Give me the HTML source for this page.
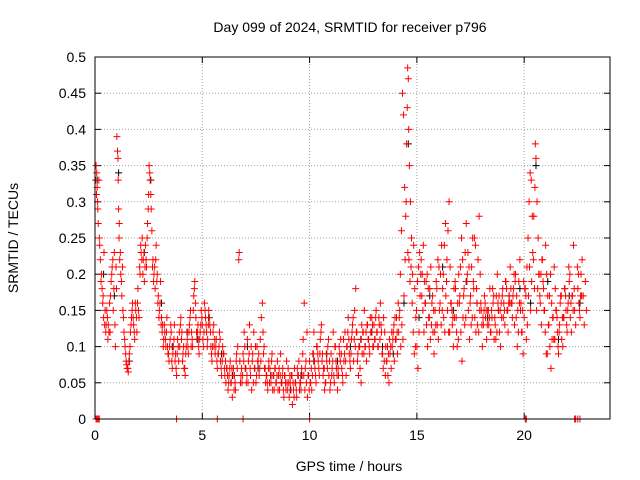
<!DOCTYPE html>
<html><head><meta charset="utf-8"><style>
body{margin:0;background:#fff;}
svg{display:block;font-family:"Liberation Sans",sans-serif;}
</style></head><body>
<svg id="chart" width="640" height="480">
<text x="350" y="32" font-size="14" text-anchor="middle">Day 099 of 2024, SRMTID for receiver p796</text>
<text x="349" y="471" font-size="14" text-anchor="middle">GPS time / hours</text>
<text transform="translate(18,238) rotate(-90)" font-size="14" text-anchor="middle">SRMTID / TECUs</text>
</svg>
<script>
const xTicks=[0,5,10,15,20];
const yTicks=[0,0.05,0.1,0.15,0.2,0.25,0.3,0.35,0.4,0.45,0.5];
const yTickLabels=["0","0.05","0.1","0.15","0.2","0.25","0.3","0.35","0.4","0.45","0.5"];
const redTimes=[0.05,0.08,0.1,0.12,0.15,0.18,0.2,0.25,0.3,0.33,0.36,0.4,0.42,0.45,0.5,0.55,0.6,0.62,0.68,0.7,0.75,0.8,0.85,0.9,0.95,1.0,1.02,1.05,1.08,1.1,1.12,1.15,1.2,1.25,1.28,1.3,1.35,1.4,1.45,1.5,1.55,1.6,1.65,1.7,1.75,1.8,1.85,1.9,1.95,2.0,2.05,2.1,2.15,2.2,2.25,2.3,2.35,2.4,2.45,2.5,2.52,2.55,2.6,2.65,2.7,2.75,2.8,2.85,2.9,2.95,3.0,3.05,3.1,3.15,3.2,3.25,3.3,3.35,3.4,3.45,3.5,3.55,3.6,3.65,3.7,3.75,3.8,3.85,3.9,3.95,4.0,4.05,4.1,4.15,4.2,4.25,4.3,4.35,4.4,4.45,4.5,4.55,4.6,4.65,4.7,4.75,4.8,4.85,4.9,4.95,5.0,5.05,5.1,5.15,5.2,5.25,5.3,5.35,5.4,5.45,5.5,5.55,5.6,5.65,5.7,5.75,5.8,5.85,5.9,5.95,6.0,6.05,6.1,6.15,6.2,6.25,6.3,6.35,6.4,6.45,6.5,6.55,6.6,6.65,6.7,6.72,6.75,6.8,6.85,6.9,6.95,7.0,7.05,7.1,7.15,7.2,7.25,7.3,7.35,7.4,7.45,7.5,7.55,7.6,7.65,7.7,7.75,7.8,7.85,7.9,7.95,8.0,8.05,8.1,8.15,8.2,8.25,8.3,8.35,8.4,8.45,8.5,8.55,8.6,8.65,8.7,8.75,8.8,8.85,8.9,8.95,9.0,9.05,9.1,9.15,9.2,9.25,9.3,9.35,9.4,9.45,9.5,9.55,9.6,9.65,9.7,9.75,9.8,9.85,9.9,9.95,10.0,10.05,10.1,10.15,10.2,10.25,10.3,10.35,10.4,10.45,10.5,10.55,10.6,10.65,10.7,10.75,10.8,10.85,10.9,10.95,11.0,11.05,11.1,11.15,11.2,11.25,11.3,11.35,11.4,11.45,11.5,11.55,11.6,11.65,11.7,11.75,11.8,11.85,11.9,11.95,12.0,12.05,12.1,12.15,12.2,12.25,12.3,12.35,12.4,12.45,12.5,12.55,12.6,12.65,12.7,12.75,12.8,12.85,12.9,12.95,13.0,13.05,13.1,13.15,13.2,13.25,13.3,13.35,13.4,13.45,13.5,13.55,13.6,13.65,13.7,13.75,13.8,13.85,13.9,13.95,14.0,14.05,14.1,14.15,14.2,14.25,14.3,14.35,14.4,14.45,14.5,14.52,14.55,14.57,14.6,14.62,14.65,14.7,14.75,14.8,14.85,14.9,14.95,15.0,15.05,15.1,15.15,15.2,15.25,15.3,15.35,15.4,15.45,15.5,15.55,15.6,15.65,15.7,15.75,15.8,15.85,15.9,15.95,16.0,16.05,16.1,16.15,16.2,16.25,16.3,16.35,16.4,16.45,16.5,16.55,16.6,16.65,16.7,16.75,16.8,16.85,16.9,16.95,17.0,17.05,17.1,17.15,17.2,17.25,17.3,17.35,17.4,17.45,17.5,17.55,17.6,17.65,17.7,17.75,17.8,17.85,17.9,17.95,18.0,18.05,18.1,18.15,18.2,18.25,18.3,18.35,18.4,18.45,18.5,18.55,18.6,18.65,18.7,18.75,18.8,18.85,18.9,18.95,19.0,19.05,19.1,19.15,19.2,19.25,19.3,19.35,19.4,19.45,19.5,19.55,19.6,19.65,19.7,19.75,19.8,19.85,19.9,19.95,20.0,20.05,20.1,20.15,20.2,20.25,20.3,20.35,20.4,20.45,20.5,20.52,20.55,20.6,20.65,20.7,20.75,20.8,20.85,20.9,20.95,21.0,21.05,21.1,21.15,21.2,21.25,21.3,21.35,21.4,21.45,21.5,21.55,21.6,21.65,21.7,21.75,21.8,21.85,21.9,21.95,22.0,22.05,22.1,22.15,22.2,22.25,22.3,22.35,22.4,22.5,22.55,22.6,22.65,22.7,22.75,22.8,22.85,22.9];
const redValues=[.35,.34,.32,.30,.27,.33,.25,.22,.2,.18,.16,.14,.23,.13,.12,.15,.11,.13,.16,.12,.19,.21,.15,.23,.1,.18,.39,.37,.33,.29,.25,.22,.2,.17,.21,.15,.12,.1,.08,.07,.065,.09,.12,.14,.16,.13,.11,.15,.12,.18,.14,.2,.23,.25,.22,.19,.24,.21,.27,.31,.35,.34,.31,.26,.22,.2,.18,.24,.2,.17,.15,.19,.14,.13,.11,.12,.1,.14,.09,.08,.11,.12,.07,.1,.13,.09,.06,.11,.08,.1,.14,.12,.09,.07,.06,.1,.11,.09,.13,.15,.12,.1,.17,.19,.14,.11,.13,.09,.12,.15,.13,.1,.16,.14,.12,.11,.15,.13,.1,.08,.12,.1,.09,.11,.07,.09,.12,.08,.06,.1,.09,.06,.05,.07,.04,.06,.08,.05,.03,.07,.06,.04,.09,.1,.22,.23,.08,.06,.05,.09,.12,.07,.05,.11,.08,.13,.06,.04,.09,.12,.07,.05,.1,.08,.06,.11,.14,.16,.09,.07,.05,.06,.04,.08,.07,.05,.09,.06,.04,.07,.05,.08,.06,.04,.09,.05,.07,.03,.06,.04,.05,.07,.03,.05,.06,.02,.04,.07,.05,.03,.06,.08,.05,.04,.06,.11,.16,.07,.05,.03,.06,.08,.05,.04,.09,.12,.07,.05,.1,.08,.06,.11,.13,.09,.07,.04,.05,.08,.1,.06,.04,.09,.07,.12,.05,.1,.07,.04,.06,.09,.11,.07,.05,.08,.12,.06,.1,.14,.09,.07,.11,.13,.08,.15,.18,.12,.09,.1,.07,.05,.09,.12,.15,.1,.08,.13,.11,.09,.12,.14,.1,.13,.11,.15,.12,.1,.13,.16,.12,.09,.14,.12,.1,.08,.06,.05,.09,.07,.1,.12,.08,.11,.14,.09,.12,.15,.1,.13,.11,.17,.22,.3,.38,.43,.485,.47,.40,.35,.3,.25,.2,.24,.18,.14,.1,.07,.12,.17,.22,.2,.24,.19,.16,.13,.1,.14,.18,.21,.16,.12,.09,.15,.19,.13,.11,.15,.2,.24,.18,.14,.12,.17,.22,.26,.3,.21,.16,.13,.1,.14,.18,.12,.16,.2,.17,.12,.08,.14,.18,.23,.27,.2,.15,.11,.17,.21,.25,.18,.14,.12,.16,.22,.28,.2,.15,.1,.13,.17,.14,.11,.15,.13,.18,.12,.14,.16,.11,.13,.17,.2,.15,.12,.1,.14,.18,.16,.13,.19,.15,.12,.17,.21,.16,.14,.18,.13,.2,.17,.15,.19,.22,.16,.12,.09,.14,.18,.11,.13,.17,.21,.15,.19,.23,.28,.32,.38,.36,.3,.25,.2,.16,.13,.22,.18,.15,.24,.2,.17,.13,.1,.07,.11,.14,.21,.18,.15,.12,.09,.13,.17,.11,.1,.14,.18,.15,.12,.16,.19,.14,.12,.17,.24,.15,.13,.18,.16,.14,.2,.22,.17,.13,.19,.15];
const redTimes2=[0.03,0.07,0.13,0.22,0.28,0.38,0.47,0.52,0.58,0.65,0.72,0.78,0.83,0.88,0.93,0.98,1.07,1.13,1.18,1.23,1.33,1.38,1.43,1.48,1.53,1.58,1.63,1.68,1.73,1.78,1.83,1.88,1.93,1.98,2.03,2.08,2.13,2.18,2.23,2.28,2.33,2.38,2.43,2.48,2.57,2.62,2.68,2.73,2.78,2.83,2.88,2.93,2.98,3.03,3.08,3.13,3.18,3.23,3.28,3.33,3.38,3.43,3.48,3.53,3.58,3.63,3.68,3.73,3.78,3.83,3.88,3.93,3.98,4.03,4.08,4.13,4.18,4.23,4.28,4.33,4.38,4.43,4.48,4.53,4.58,4.63,4.68,4.73,4.78,4.83,4.88,4.93,4.98,5.03,5.08,5.13,5.18,5.23,5.28,5.33,5.38,5.43,5.48,5.53,5.58,5.63,5.68,5.73,5.78,5.83,5.88,5.93,5.98,6.03,6.08,6.13,6.18,6.23,6.28,6.33,6.38,6.43,6.48,6.53,6.58,6.63,6.78,6.83,6.88,6.93,6.98,7.03,7.08,7.13,7.18,7.23,7.28,7.33,7.38,7.43,7.48,7.53,7.58,7.63,7.68,7.73,7.83,7.88,7.93,7.98,8.03,8.08,8.13,8.18,8.23,8.28,8.33,8.38,8.43,8.48,8.53,8.58,8.63,8.68,8.73,8.78,8.83,8.88,8.93,8.98,9.03,9.08,9.13,9.18,9.23,9.28,9.33,9.38,9.43,9.48,9.53,9.58,9.63,9.68,9.73,9.78,9.83,9.88,9.93,9.98,10.03,10.08,10.13,10.18,10.23,10.28,10.33,10.38,10.43,10.48,10.53,10.58,10.63,10.68,10.73,10.78,10.83,10.88,10.93,10.98,11.03,11.08,11.13,11.18,11.23,11.28,11.33,11.38,11.43,11.48,11.53,11.58,11.63,11.68,11.73,11.78,11.83,11.88,11.93,11.98,12.03,12.08,12.13,12.18,12.23,12.28,12.33,12.38,12.43,12.48,12.53,12.58,12.63,12.68,12.73,12.78,12.83,12.88,12.93,12.98,13.03,13.08,13.13,13.18,13.23,13.28,13.33,13.38,13.43,13.48,13.53,13.58,13.63,13.68,13.73,13.78,13.83,13.88,13.93,13.98,14.03,14.08,14.13,14.18,14.23,14.28,14.33,14.38,14.43,14.48,14.58,14.63,14.68,14.73,14.78,14.83,14.88,14.93,14.98,15.03,15.08,15.13,15.18,15.23,15.28,15.33,15.38,15.43,15.48,15.53,15.58,15.63,15.68,15.73,15.78,15.83,15.88,15.93,15.98,16.03,16.08,16.13,16.18,16.23,16.28,16.33,16.38,16.43,16.48,16.53,16.58,16.63,16.68,16.73,16.78,16.83,16.88,16.93,16.98,17.03,17.08,17.13,17.18,17.23,17.28,17.33,17.38,17.43,17.48,17.53,17.58,17.63,17.68,17.73,17.78,17.83,17.88,17.93,17.98,18.03,18.08,18.13,18.18,18.23,18.28,18.33,18.38,18.43,18.48,18.53,18.58,18.63,18.68,18.73,18.78,18.83,18.88,18.93,18.98,19.03,19.08,19.13,19.18,19.23,19.28,19.33,19.38,19.43,19.48,19.53,19.58,19.63,19.68,19.73,19.78,19.83,19.88,19.93,19.98,20.03,20.08,20.13,20.18,20.23,20.28,20.33,20.38,20.43,20.48,20.58,20.63,20.68,20.73,20.78,20.83,20.88,20.93,20.98,21.03,21.08,21.13,21.18,21.23,21.28,21.33,21.38,21.43,21.48,21.53,21.58,21.63,21.68,21.73,21.78,21.83,21.88,21.93,21.98,22.03,22.08,22.13,22.18,22.23,22.28,22.33,22.48,22.53,22.58,22.63,22.68,22.73,22.78,22.83,22.88];
const redValues2=[.33,.31,.29,.24,.19,.17,.15,.13,.14,.12,.17,.2,.22,.18,.13,.21,.36,.27,.23,.19,.14,.11,.09,.075,.07,.08,.1,.13,.15,.14,.12,.16,.14,.16,.15,.21,.24,.22,.2,.23,.21,.22,.25,.29,.33,.29,.21,.19,.21,.22,.19,.16,.14,.16,.13,.12,.1,.13,.11,.12,.1,.09,.1,.13,.08,.09,.11,.08,.07,.09,.1,.12,.13,.11,.08,.1,.07,.09,.12,.1,.12,.14,.1,.11,.15,.18,.16,.12,.12,.1,.11,.13,.14,.11,.12,.15,.13,.1,.13,.14,.12,.09,.1,.13,.11,.1,.08,.09,.1,.11,.07,.08,.09,.07,.08,.07,.06,.05,.07,.05,.07,.06,.04,.05,.08,.07,.05,.07,.06,.08,.1,.07,.06,.05,.09,.07,.1,.08,.05,.07,.1,.06,.08,.09,.07,.08,.12,.1,.07,.06,.05,.07,.05,.06,.08,.04,.06,.07,.05,.06,.04,.07,.06,.05,.06,.04,.06,.05,.08,.04,.05,.06,.04,.06,.05,.03,.05,.04,.07,.06,.04,.05,.07,.09,.06,.04,.08,.12,.06,.04,.05,.07,.06,.09,.08,.06,.1,.09,.07,.09,.12,.08,.06,.07,.05,.09,.07,.11,.08,.05,.06,.08,.06,.1,.08,.06,.07,.1,.08,.09,.06,.11,.09,.08,.1,.12,.11,.08,.09,.12,.14,.11,.1,.12,.08,.06,.1,.11,.13,.12,.09,.1,.12,.13,.11,.1,.14,.12,.13,.1,.11,.14,.12,.1,.14,.11,.13,.09,.07,.08,.06,.08,.1,.09,.11,.1,.12,.11,.13,.14,.11,.12,.16,.14,.2,.26,.45,.42,.32,.28,.23,.22,.19,.21,.16,.12,.09,.1,.15,.19,.21,.23,.2,.17,.15,.12,.16,.19,.2,.18,.14,.11,.13,.17,.15,.12,.13,.18,.22,.21,.16,.13,.15,.2,.24,.27,.19,.15,.12,.12,.16,.15,.14,.18,.19,.14,.1,.11,.16,.21,.25,.22,.17,.13,.14,.19,.23,.21,.16,.13,.14,.19,.25,.24,.18,.13,.12,.15,.16,.13,.14,.15,.16,.15,.13,.15,.14,.12,.15,.18,.17,.14,.11,.12,.16,.17,.15,.16,.17,.14,.15,.19,.18,.15,.16,.16,.18,.16,.17,.2,.19,.14,.1,.12,.16,.15,.12,.15,.19,.18,.17,.21,.25,.3,.34,.33,.28,.22,.18,.15,.18,.2,.17,.2,.22,.19,.15,.12,.09,.09,.13,.17,.2,.16,.14,.11,.11,.15,.14,.1,.12,.16,.17,.14,.14,.18,.17,.13,.15,.21,.2,.16,.17,.15,.18,.21,.2,.15,.17,.17];
const blackTimes=[0.1,0.4,0.9,1.1,1.6,2.3,2.6,3.1,3.6,4.3,4.8,5.3,5.9,6.4,7.1,7.6,8.2,8.7,9.1,9.6,10.2,10.8,11.3,11.9,12.4,12.9,13.4,13.9,14.4,14.6,15.1,15.6,16.2,16.7,17.3,17.8,18.3,18.8,19.3,19.8,20.3,20.55,21.1,21.6,22.1,22.6];
const blackValues=[.33,.2,.17,.34,.08,.23,.33,.16,.1,.12,.11,.14,.09,.06,.1,.07,.06,.05,.04,.06,.08,.09,.08,.1,.11,.12,.1,.09,.16,.38,.14,.17,.21,.15,.19,.16,.14,.15,.17,.18,.16,.35,.19,.11,.17,.16];
const zeroTimes=[0.05,0.1,0.15,0.2,3.8,5.7,6.9,10.0,20.05,20.1,22.35,22.4,22.5,22.6];
const zeroValues=[0,0,0,0,0,0,0,0,0,0,0,0,0,0];

const X0=95,X1=610,Y0=419,Y1=57,XMAX=24,YMAX=0.5;
const sx=t=>X0+(X1-X0)*t/XMAX;
const sy=v=>Y0-(Y0-Y1)*v/YMAX;
const svg=document.getElementById('chart');
const NS='http://www.w3.org/2000/svg';
function mk(tag,attrs,parent){const e=document.createElementNS(NS,tag);for(const k in attrs)e.setAttribute(k,attrs[k]);(parent||svg).appendChild(e);return e;}

const grid=mk('g',{});


yTicks.forEach((v,i)=>{
  const y=sy(v);
  if(i>0&&i<yTicks.length-1){const l=mk('line',{x1:X0,x2:X1,y1:y,y2:y,stroke:'#a0a0a0','stroke-dasharray':'1,2','stroke-width':1},grid);
  
  }
  mk('line',{x1:X0,x2:X0+6,y1:y,y2:y,stroke:'#000'});
  mk('line',{x1:X1,x2:X1-6,y1:y,y2:y,stroke:'#000'});
  const t=mk('text',{x:X0-9,y:y+5,'font-size':14,'text-anchor':'end'});
  t.textContent=yTickLabels[i];
  
  
});
xTicks.forEach(v=>{
  const x=sx(v);
  if(v>0){const l=mk('line',{x1:x,x2:x,y1:Y0,y2:Y1,stroke:'#a0a0a0','stroke-dasharray':'1,2','stroke-width':1},grid);
  
  }
  mk('line',{x1:x,x2:x,y1:Y0,y2:Y0-6,stroke:'#000'});
  mk('line',{x1:x,x2:x,y1:Y1,y2:Y1+6,stroke:'#000'});
  const t=mk('text',{x:x,y:Y0+21,'font-size':14,'text-anchor':'middle'});
  t.textContent=String(v);
  
  
});
function plus(times,vals,color,name){
  const g=mk('g',{stroke:color,'stroke-width':1});
  
  
  let d='';
  times.forEach((t,i)=>{const x=sx(t),y=sy(vals[i]);d+=`M${x-3.5},${y}h7M${x},${y-3.5}v7`;});
  mk('path',{d:d,fill:'none'},g);
}
plus(blackTimes,blackValues,'#000','black-series');
plus(redTimes,redValues,'#f00','red-series');
plus(redTimes2,redValues2,'#f00','red-series-extra');
plus(zeroTimes,zeroValues,'#f00','zero-markers');
const fr=mk('rect',{x:X0,y:Y1,width:X1-X0,height:Y0-Y1,fill:'none',stroke:'#000','stroke-width':1});


</script>
</body></html>
